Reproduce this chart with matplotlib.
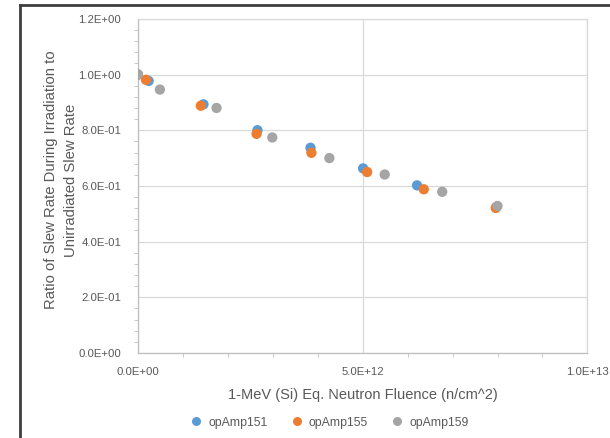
import matplotlib.pyplot as plt
from matplotlib.ticker import MultipleLocator, FuncFormatter
from matplotlib.lines import Line2D

# fluence (n/cm^2) and slew-rate ratio per device
fluence_151 = [0.0, 0.24e12, 1.46e12, 2.66e12, 3.84e12, 5.01e12, 6.21e12, 7.98e12]
ratio_151 = [1.000, 0.977, 0.893, 0.800, 0.737, 0.663, 0.602, 0.525]

fluence_155 = [0.0, 0.18e12, 1.40e12, 2.64e12, 3.86e12, 5.10e12, 6.36e12, 7.96e12]
ratio_155 = [1.000, 0.981, 0.888, 0.787, 0.719, 0.650, 0.588, 0.521]

fluence_159 = [0.0, 0.49e12, 1.75e12, 2.99e12, 4.26e12, 5.49e12, 6.77e12, 8.00e12]
ratio_159 = [1.000, 0.946, 0.880, 0.774, 0.700, 0.641, 0.579, 0.528]

series = [
    ("opAmp151", fluence_151, ratio_151, "#5B9BD5"),
    ("opAmp155", fluence_155, ratio_155, "#ED7D31"),
    ("opAmp159", fluence_159, ratio_159, "#A5A5A5"),
]

plt.rcParams['font.family'] = ['Liberation Sans', 'DejaVu Sans']

fig = plt.figure(figsize=(6.1, 4.38), dpi=100)
ax = fig.add_axes([0.226, 0.194, 0.737, 0.763])

for name, xs, ys, col in series:
    ax.scatter(xs, ys, s=55, color=col, edgecolors='none', zorder=3, label=name)

ax.set_xlim(0, 1e13)
ax.set_ylim(0, 1.2)
ax.xaxis.set_major_locator(MultipleLocator(5e12))
ax.xaxis.set_minor_locator(MultipleLocator(1e12))
ax.yaxis.set_major_locator(MultipleLocator(0.2))
ax.yaxis.set_minor_locator(MultipleLocator(0.04))

ax.xaxis.set_major_formatter(FuncFormatter(lambda v, p: f"{v:.1E}"))
ax.yaxis.set_major_formatter(FuncFormatter(lambda v, p: f"{v:.1E}"))

ax.grid(True, which='major', color='#D9D9D9', linewidth=0.9)
ax.set_axisbelow(True)

for s in ['top', 'right']:
    ax.spines[s].set_color('#D9D9D9')
    ax.spines[s].set_linewidth(0.9)
for s in ['left', 'bottom']:
    ax.spines[s].set_color('#BFBFBF')
    ax.spines[s].set_linewidth(0.9)

ax.tick_params(axis='both', which='major', length=0, labelsize=8.2, labelcolor='#595959')
ax.tick_params(axis='x', which='major', pad=10)
ax.tick_params(axis='y', which='major', pad=12)
ax.tick_params(axis='both', which='minor', length=3, direction='out', color='#BFBFBF')

ax.set_xlabel("1-MeV (Si) Eq. Neutron Fluence (n/cm^2)", fontsize=10.5, color='#595959', labelpad=8)
ax.set_ylabel("Ratio of Slew Rate During Irradiation to\nUnirradiated Slew Rate",
              fontsize=10.7, color='#595959', linespacing=1.55)
ax.yaxis.set_label_coords(-0.133, 0.518)

handles = [Line2D([], [], marker='o', linestyle='none', markersize=6.5,
                  markerfacecolor=c, markeredgecolor='none') for _, _, _, c in series]
fig.legend(handles, [n for n, _, _, _ in series], loc='center', ncol=3,
           bbox_to_anchor=(0.535, 0.035), frameon=False, fontsize=8.8,
           labelcolor='#595959', handletextpad=0.0, columnspacing=1.4)

# outer chart border
fig.add_artist(Line2D([20 / 610, 20 / 610], [0, 1 - 5 / 438], transform=fig.transFigure,
                      color='#3F3F3F', linewidth=2))
fig.add_artist(Line2D([20 / 610, 1], [1 - 5 / 438, 1 - 5 / 438], transform=fig.transFigure,
                      color='#3F3F3F', linewidth=2))

fig.savefig("out.png", dpi=100)
